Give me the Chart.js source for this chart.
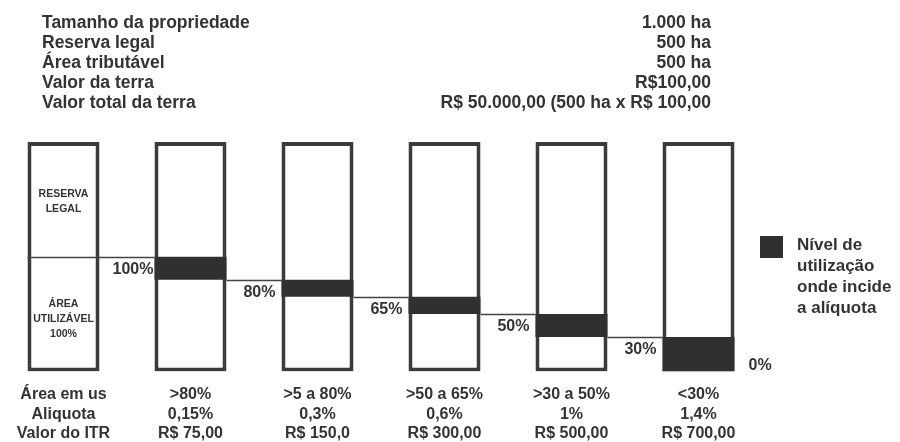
<!DOCTYPE html>
<html lang="pt-BR">
<head>
<meta charset="utf-8">
<title>ITR – grau de utilização e alíquota</title>
<script src="https://cdn.jsdelivr.net/npm/chart.js@4.4.1/dist/chart.umd.min.js"></script>
<style>
  html, body { margin: 0; padding: 0; background: #ffffff; }
  #wrap { width: 900px; height: 442px; position: relative; }
</style>
</head>
<body>
<div id="wrap"><canvas id="itr"></canvas></div>
<script>
// Dados do imóvel (bloco de texto superior)
const infoRotulos = ['Tamanho da propriedade', 'Reserva legal', 'Área tributável', 'Valor da terra', 'Valor total da terra'];
const infoValores = ['1.000 ha', '500 ha', '500 ha', 'R$100,00', 'R$ 50.000,00 (500 ha x R$ 100,00'];

// Linhas da tabela inferior
const rotulosLinhas = ['Área em us', 'Aliquota', 'Valor do ITR'];
const faixasUso = ['>80%', '>5 a 80%', '>50 a 65%', '>30 a 50%', '<30%'];
const aliquotas = ['0,15%', '0,3%', '0,6%', '1%', '1,4%'];
const valoresITR = ['R$ 75,00', 'R$ 150,0', 'R$ 300,00', 'R$ 500,00', 'R$ 700,00'];

// Área total da propriedade (%): reserva legal + área utilizável
const reservaLegal = 100;
const areaUtilizavel = 100;

// Faixas do nível de utilização onde incide cada alíquota (%)
const faixaTopo = [100, 80, 65, 50, 30];
const faixaBase = [80, 65, 50, 30, 0];

// Legenda
const legendaLinhas = ['Nível de', 'utilização', 'onde incide', 'a alíquota'];

const FONTE = "'Liberation Sans', Arial, Helvetica, sans-serif";
const COR_TEXTO = '#333333';
const COR_BORDA = '#3b3b3b';
const COR_FAIXA = '#303030';

const total = reservaLegal + areaUtilizavel;
const rotulosX = [rotulosLinhas].concat(faixasUso.map((f, i) => [f, aliquotas[i], valoresITR[i]]));
const caixas = rotulosX.map(() => [0, total]);
const faixas = [null].concat(faixaTopo.map((t, i) => [faixaBase[i], t]));

const anotacoes = {
  id: 'anotacoes',
  afterDatasetsDraw(chart) {
    const ctx = chart.ctx;
    const y = chart.scales.y;
    const caixasMeta = chart.getDatasetMeta(0).data;
    const esq = (i) => caixasMeta[i].x - caixasMeta[i].width / 2;
    const dir = (i) => caixasMeta[i].x + caixasMeta[i].width / 2;

    ctx.save();
    // Linhas que ligam o nível de utilização de uma coluna à seguinte
    ctx.strokeStyle = '#444444';
    ctx.lineWidth = 1.4;
    for (let i = 1; i < caixasMeta.length; i++) {
      const py = Math.round(y.getPixelForValue(faixaTopo[i - 1])) + 0.5;
      const x0 = i === 1 ? esq(0) : dir(i - 1);
      ctx.beginPath();
      ctx.moveTo(x0, py);
      ctx.lineTo(esq(i), py);
      ctx.stroke();
    }

    // Percentuais junto a cada faixa
    ctx.fillStyle = COR_TEXTO;
    ctx.font = 'bold 16px ' + FONTE;
    ctx.textBaseline = 'middle';
    ctx.textAlign = 'right';
    for (let i = 1; i < caixasMeta.length; i++) {
      const t = faixaTopo[i - 1];
      const recuo = i === 1 ? 1 : 6;
      ctx.fillText(t + '%', esq(i) - recuo, y.getPixelForValue(t) + 13);
    }
    const ultimo = caixasMeta.length - 1;
    ctx.textAlign = 'left';
    ctx.fillText(faixaBase[faixaBase.length - 1] + '%', dir(ultimo) + 14, y.getPixelForValue(0) - 6);

    // Rótulos internos da primeira coluna
    ctx.textAlign = 'center';
    ctx.font = 'bold 10.5px ' + FONTE;
    const cx = caixasMeta[0].x;
    const yRes = y.getPixelForValue(areaUtilizavel + reservaLegal / 2);
    ['RESERVA', 'LEGAL'].forEach((s, k) => ctx.fillText(s, cx, yRes - 5 + k * 15));
    const yUt = y.getPixelForValue(areaUtilizavel / 2);
    ['ÁREA', 'UTILIZÁVEL', areaUtilizavel + '%'].forEach((s, k) => ctx.fillText(s, cx, yUt - 10 + k * 15));

    // Bloco de dados do imóvel
    ctx.font = 'bold 17.5px ' + FONTE;
    infoRotulos.forEach((s, k) => {
      ctx.textAlign = 'left';
      ctx.fillText(s, 42, 23 + k * 20);
      ctx.textAlign = 'right';
      ctx.fillText(infoValores[k], 711, 23 + k * 20);
    });

    // Legenda
    const ds = chart.data.datasets[1];
    ctx.fillStyle = ds.backgroundColor;
    ctx.fillRect(760, 236, 23, 22);
    ctx.fillStyle = COR_TEXTO;
    ctx.font = 'bold 17px ' + FONTE;
    ctx.textAlign = 'left';
    legendaLinhas.forEach((s, k) => ctx.fillText(s, 797, 245 + k * 21));
    ctx.restore();
  }
};

new Chart(document.getElementById('itr'), {
  type: 'bar',
  data: {
    labels: rotulosX,
    datasets: [
      {
        label: 'Área total',
        data: caixas,
        backgroundColor: '#ffffff',
        borderColor: COR_BORDA,
        borderWidth: 4,
        borderSkipped: false,
        grouped: false,
        order: 2
      },
      {
        label: legendaLinhas.join(' '),
        data: faixas,
        backgroundColor: COR_FAIXA,
        borderWidth: 0,
        grouped: false,
        order: 1
      }
    ]
  },
  options: {
    responsive: true,
    maintainAspectRatio: false,
    animation: false,
    devicePixelRatio: 1,
    layout: { padding: { top: 142, left: 0, right: 138, bottom: -15 } },
    datasets: { bar: { categoryPercentage: 1, barPercentage: 0.567 } },
    scales: {
      x: {
        grid: { display: false, drawTicks: false },
        border: { display: false },
        ticks: {
          color: COR_TEXTO,
          font: { family: FONTE, size: 16, weight: 'bold', lineHeight: 1.2 },
          padding: 14,
          maxRotation: 0,
          autoSkip: false
        }
      },
      y: { display: false, min: 0, max: total }
    },
    plugins: {
      legend: { display: false },
      tooltip: { enabled: false },
      title: { display: false }
    }
  },
  plugins: [anotacoes]
});
</script>
</body>
</html>
